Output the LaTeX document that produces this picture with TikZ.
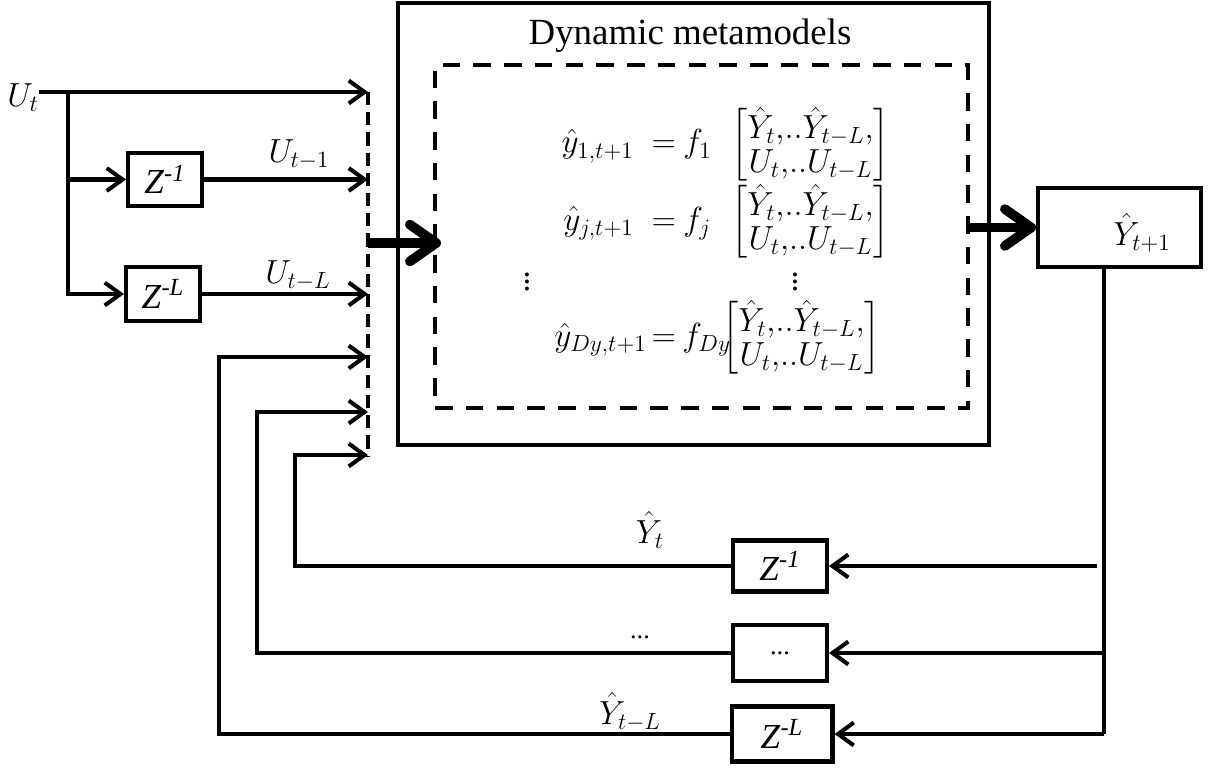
\RequirePackage{fix-cm}
\documentclass[tikz,border=0pt]{standalone}
\usepackage{amsmath}
\usepackage{fontspec}
\setmainfont{Liberation Serif}
\usetikzlibrary{arrows.meta}
\begin{document}
\begin{tikzpicture}[x=0.02cm,y=-0.02cm,
  wire/.style={line width=2.3pt},
  arr/.style={wire,-{Straight Barb[length=9pt,width=13pt]}},
  fat/.style={line width=5.5pt,-{Straight Barb[length=15pt,width=21pt,round]}},
  blk/.style={draw,line width=2.3pt,inner sep=0pt,font=\fontsize{20}{24}\selectfont},
  mth/.style={inner sep=0pt,font=\fontsize{19}{19}\selectfont},
  lbl/.style={inner sep=0pt,font=\fontsize{19}{22}\selectfont},
  bus/.style={line width=2.3pt,dash pattern=on 7.5pt off 4pt},
]
\useasboundingbox (0,0) rectangle (1216,767);

% main blocks
\node[draw,line width=2.3pt,minimum width=11.82cm,minimum height=8.84cm,inner sep=0pt] (outer) at (693.5,224) {};
\node[anchor=base,inner sep=0pt,font=\fontsize{21}{24}\selectfont] (title) at (690,45) {Dynamic metamodels};
\node[draw,line width=2.3pt,dash pattern=on 10pt off 7.5pt,minimum width=10.66cm,minimum height=6.86cm,inner sep=0pt] (inner) at (701.5,236.5) {};

% equations
\def\argm{\renewcommand{\arraystretch}{1.0}\begin{bmatrix}\hat{Y}_t{,}..\hat{Y}_{t-L}{,}\\ U_t{,}..U_{t-L}\end{bmatrix}}
\node[mth,anchor=base east] (l1) at (634,153) {$\hat{y}_{1,t+1}$};
\node[mth,anchor=base] (e1) at (664,153) {$=$};
\node[mth,anchor=base west] (f1) at (683,153) {$f_1$};
\node[mth,anchor=base west] (m1) at (731,153) {$\argm$};

\node[mth,anchor=base east] (l2) at (634,230) {$\hat{y}_{j,t+1}$};
\node[mth,anchor=base] (e2) at (664,230) {$=$};
\node[mth,anchor=base west] (f2) at (683,230) {$f_j$};
\node[mth,anchor=base west] (m2) at (731,230) {$\argm$};

\node[mth] (vd1) at (527,277) {$\vdots$};
\node[mth] (vd2) at (795,277) {$\vdots$};

\node[mth,anchor=base east] (l3) at (647,346) {$\hat{y}_{Dy,t+1}$};
\node[mth,anchor=base] (e3) at (664,346) {$=$};
\node[mth,anchor=base west] (f3) at (682,346) {$f_{Dy}$};
\node[mth,anchor=base west] (m3) at (722,346) {$\argm$};

% output block
\node[draw,line width=2.3pt,minimum width=3.26cm,minimum height=1.58cm,inner sep=0pt] (yb) at (1119.5,227.5) {};
\node[lbl] (ylab) at (1142,233) {$\hat{Y}_{t+1}$};

% input side
\node[lbl] (ut) at (23,98) {$U_t$};
\node[blk,minimum width=1.48cm,minimum height=1.06cm] (z1u) at (165,179.5) {\textit{Z}\textsuperscript{\textit{-1}}};
\node[blk,minimum width=1.48cm,minimum height=1.08cm] (zLu) at (163,294) {\textit{Z}\textsuperscript{\textit{-L}}};
\node[lbl,anchor=south] (lu1) at (299,170) {$U_{t-1}$};
\node[lbl,anchor=south] (luL) at (298,291) {$U_{t-L}$};

\coordinate (b0) at (368,92);
\coordinate (bend) at (368,456);
\coordinate (j0) at (68,92);
\coordinate (bin) at (368,243);

\draw[bus] (b0) -- (bend);
\draw[arr] (ut.east |- b0) -- (b0);
\draw[arr] (j0) |- (zLu.west);
\draw[arr] (j0 |- z1u.west) -- (z1u.west);
\draw[arr] (z1u.east) -- (z1u.east -| b0);
\draw[arr] (zLu.east) -- (zLu.east -| b0);
\draw[fat] (bin) -- (441,243);

% output arrow
\draw[fat] (inner.east |- yb.west) -- (yb.west);

% feedback blocks
\node[blk,minimum width=1.88cm,minimum height=1.02cm] (z1d) at (780,566) {\textit{Z}\textsuperscript{\textit{-1}}};
\node[blk,minimum width=1.88cm,minimum height=1.12cm,font=\fontsize{15}{18}\selectfont] (dd) at (780,653) {...};
\node[blk,minimum width=2.02cm,minimum height=1.1cm] (zLd) at (782,734) {\textit{Z}\textsuperscript{\textit{-L}}};

\node[lbl] (ly1) at (650,530) {$\hat{Y}_t$};
\node[inner sep=0pt,font=\fontsize{15}{18}\selectfont] (lyd) at (640,637) {...};
\node[lbl] (lyL) at (630,712) {$\hat{Y}_{t-L}$};

\coordinate (tap) at (1104,267);
\draw[wire] (tap) -- (tap |- zLd.east);
\draw[arr] (tap |- zLd.east) -- (zLd.east);
\draw[arr] (tap |- dd.east) -- (dd.east);
\draw[arr] ([xshift=-4]tap |- z1d.east) -- (z1d.east);

\draw[arr] (z1d.west) -| (295,455) -- (bend |- 0,455);
\draw[arr] (dd.west) -| (257,412) -- (bend |- 0,412);
\draw[arr] (zLd.west) -| (219,357) -- (bend |- 0,357);
\end{tikzpicture}
\end{document}
